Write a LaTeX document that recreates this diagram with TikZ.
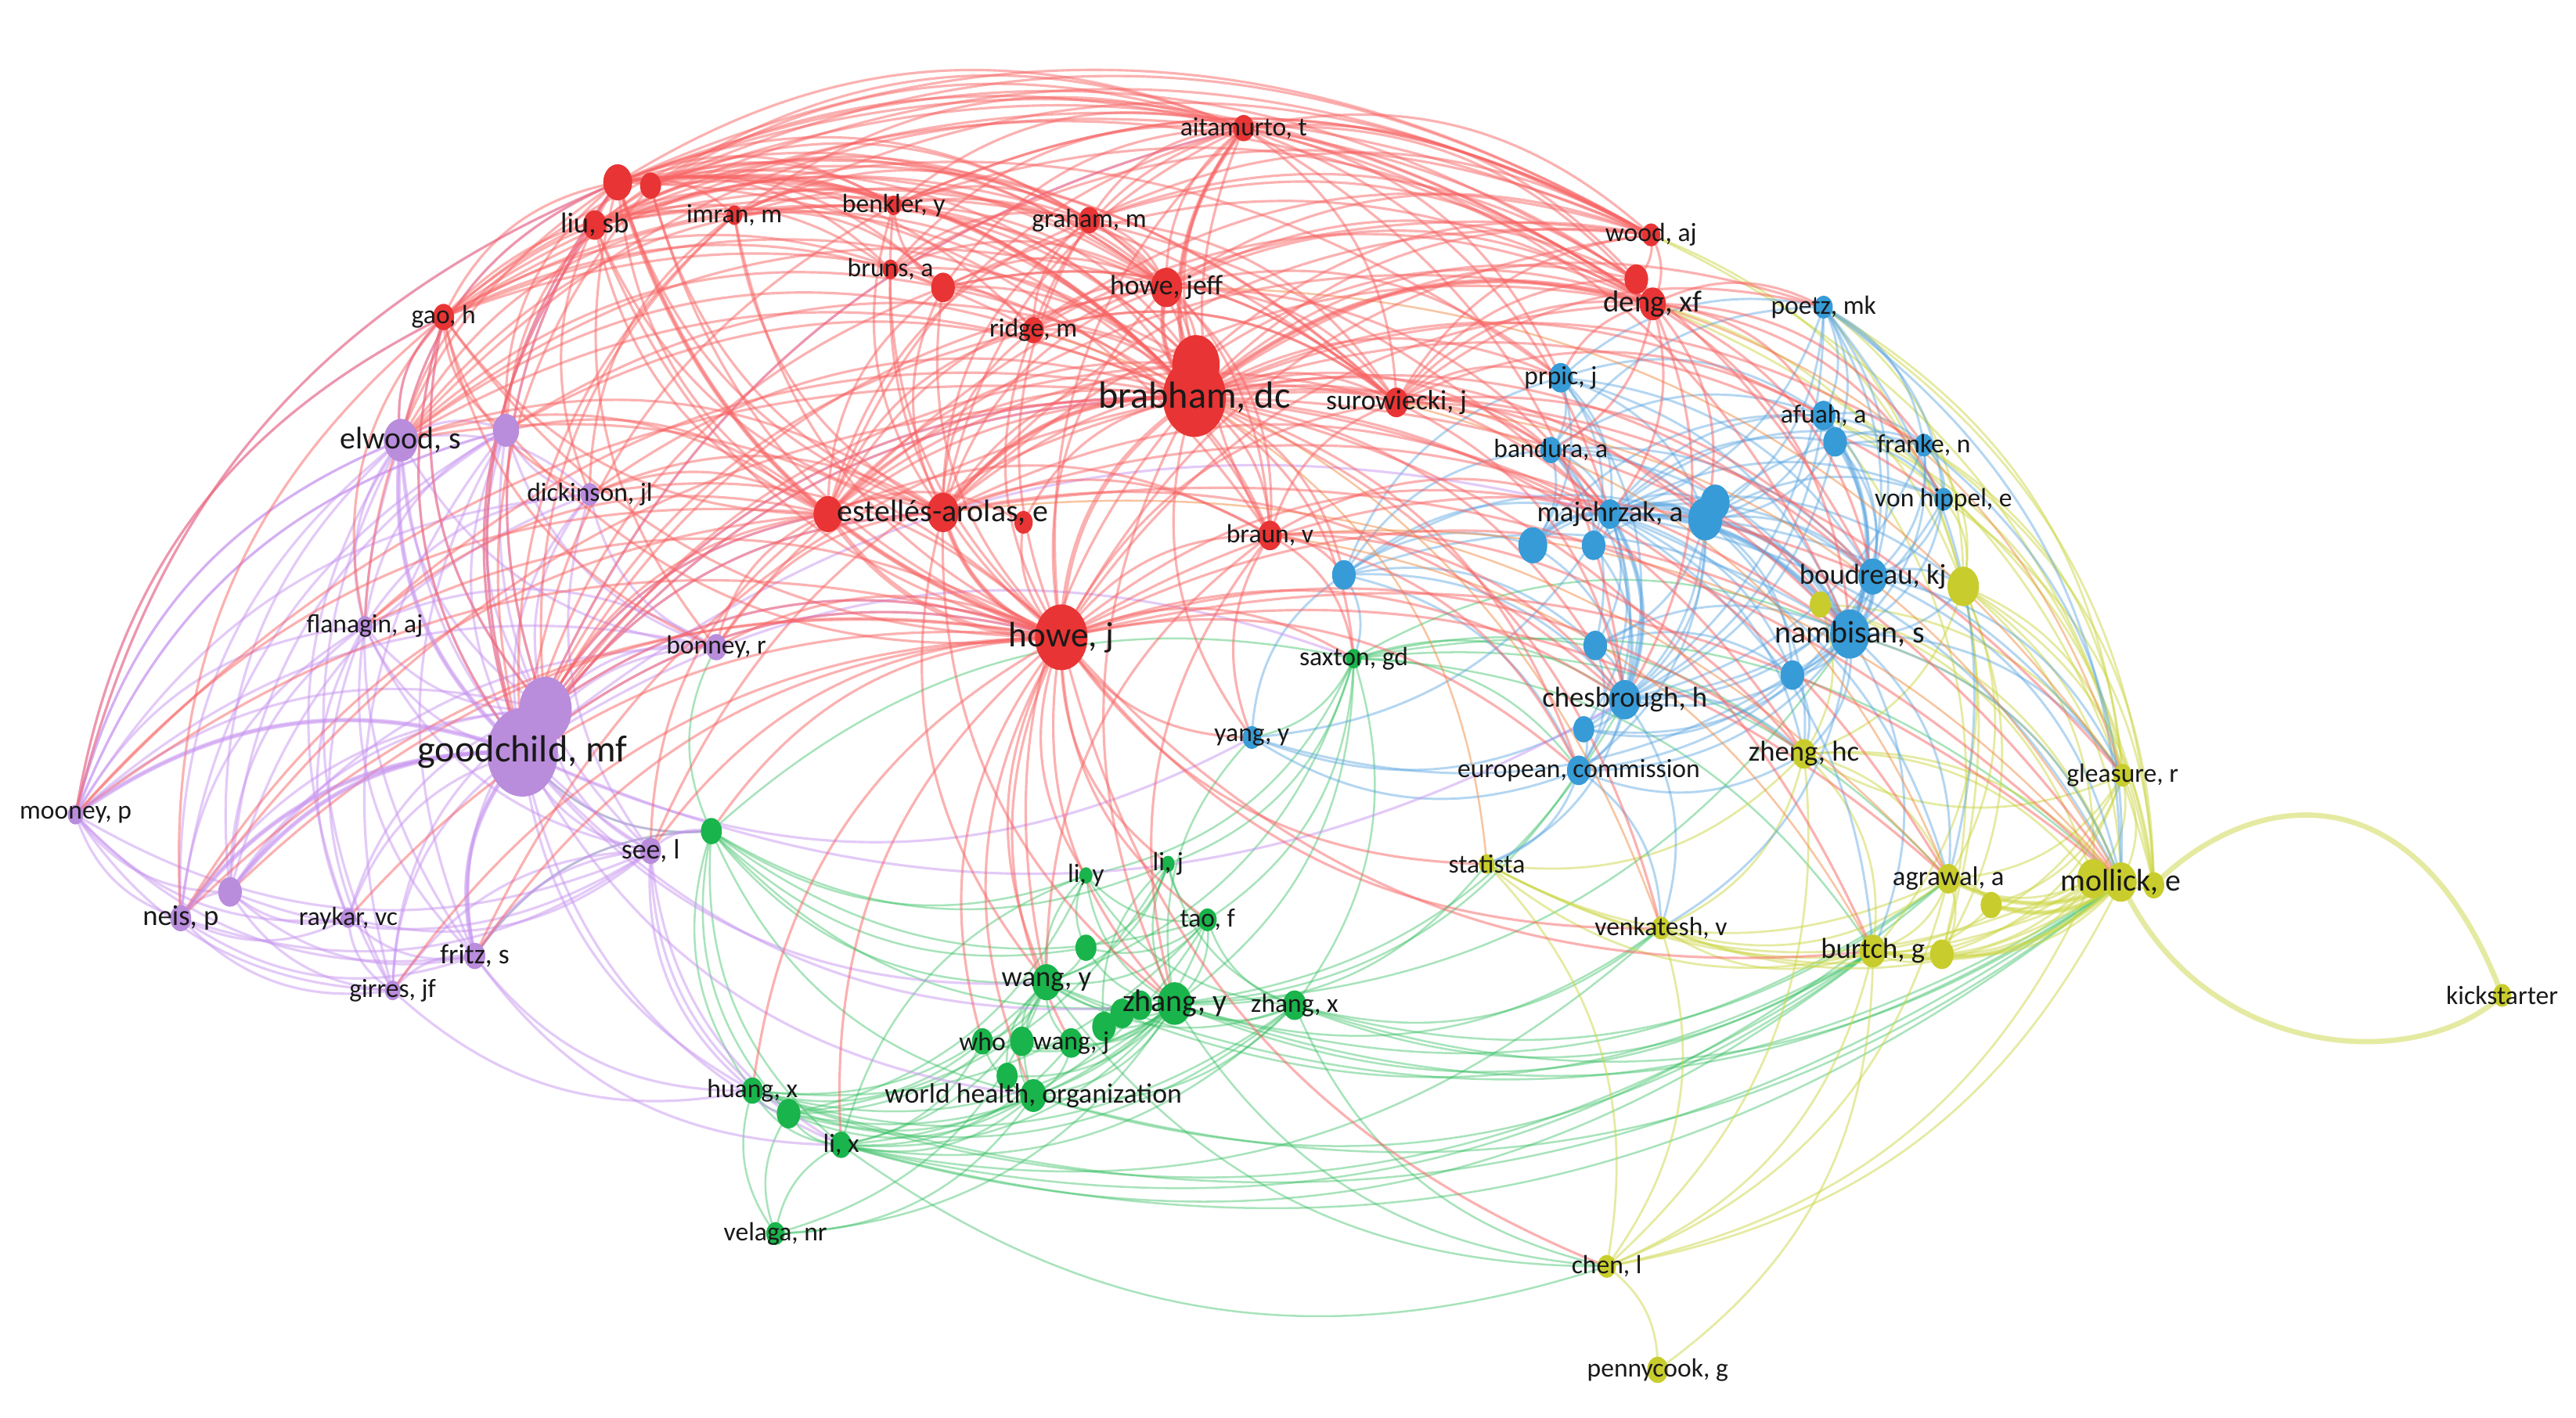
\documentclass[tikz,border=0pt]{standalone}
\usepackage{fontspec}
\newfontfamily\lab{Carlito}
\definecolor{nR}{RGB}{232,52,52}
\definecolor{nP}{RGB}{185,140,220}
\definecolor{nG}{RGB}{25,180,75}
\definecolor{nB}{RGB}{55,155,215}
\definecolor{nY}{RGB}{200,205,45}
\definecolor{cR}{RGB}{248,100,100}
\definecolor{cP}{RGB}{200,150,240}
\definecolor{cG}{RGB}{50,190,95}
\definecolor{cB}{RGB}{90,165,225}
\definecolor{cY}{RGB}{205,215,70}
\definecolor{cO}{RGB}{240,140,70}
\definecolor{labtext}{RGB}{25,25,25}
\tikzset{
  eR/.style={draw=cR,line width=1.5pt,opacity=0.5},
  eP/.style={draw=cP,line width=1.5pt,opacity=0.5},
  eG/.style={draw=cG,line width=1.2pt,opacity=0.42},
  eB/.style={draw=cB,line width=1.4pt,opacity=0.45},
  eY/.style={draw=cY,line width=1.3pt,opacity=0.5},
  eO/.style={draw=cO,line width=1.2pt,opacity=0.5},
  fatter/.style={line width=2.8pt},
  lb/.style={font=\lab\fontsize{#1}{#1}\selectfont,text=labtext,inner sep=0pt},
}
\newcommand\edgeC[3]{%
  \pgfpointanchor{#2}{center}\pgfgetlastxy{\ax}{\ay}%
  \pgfpointanchor{#3}{center}\pgfgetlastxy{\bx}{\by}%
  \pgfmathtruncatemacro\cw{((\ax/100-7.8)*(\by/100+4.3)-(\ay/100+4.3)*(\bx/100-7.8))<0}%
  \ifnum\cw=1\relax
    \draw[#1] (#2.center) to[bend left=27] (#3.center);%
  \else
    \draw[#1] (#2.center) to[bend right=27] (#3.center);%
  \fi}
\newcommand\hubE[3]{\foreach \tg in {#3}{\edgeC{#1}{#2}{\tg}}}
\begin{document}
\begin{tikzpicture}[x=1pt,y=-1pt]
\fill[white] (0,0) rectangle (1568,863);
\useasboundingbox (0,0) rectangle (1568,863);
% ---------- positions
\foreach \nn/\xx/\yy in {
 ait/757/78, liu/362/137, liuA/376/111, liuB/396/113, imr/447/131, ben/544/125,
 gra/663/134, bru/542/164, bruB/574/175, hjf/710/175, rid/629/201, gao/270/193,
 bra/727/242, braB/728/222, sur/850/245, woo/1005/143, den/1006/185, denB/996/170,
 est/574/312, estA/504/313, estB/623/318, brn/773/326, hj/646/388,
 elw/244/268, elwB/308/262, dic/359/301, fla/222/381, bon/436/394, goo/318/458,
 gooB/332/432, moo/46/496, nei/110/559, neiB/140/543, ray/212/559, fri/289/582,
 gir/239/603, see/396/518,
 seeG/433/506, sax/824/401, liy/661/533, lij/711/526, tao/735/560, wgy/637/598,
 wgyB/661/577, zhy/715/611, zhyB/694/612, zhx/788/612, who/598/634, whoB/622/634,
 wgj/652/635, wgjB/672/625, wgjC/683/617, wor/629/667, worB/613/655, hua/458/664,
 huaB/480/678, lix/512/697, vel/472/751,
 poe/1110/187, prp/950/230, afu/1110/253, afuB/1117/269, ban/944/274, fra/1171/271,
 vhi/1183/304, maj/980/313, majB/1038/316, majC/1044/306, majD/933/332, majE/970/332,
 bou/1140/351, nam/1126/386, namB/1091/411, bluC/971/393, che/989/426, cheB/964/444,
 eur/961/469, bluA/818/350, yan/762/449,
 zhh/1098/459, yelA/1195/357, yelB/1108/368, gle/1292/472, sta/905/526, agr/1186/535,
 agrB/1212/551, mol/1291/537, molA/1274/535, molB/1311/539, ven/1011/565, bur/1140/579,
 burB/1182/581, kic/1523/606, chl/978/771, pen/1009/834}
 {\coordinate (\nn) at (\xx,\yy);}
% ---------- edges: green
\hubE{eG}{zhy}{zhyB,wgy,wgyB,liy,lij,tao,zhx,who,whoB,wgj,wgjB,wgjC,wor,worB,hua,huaB,lix,vel,seeG,sax,yan,mol,bur,agr,ven,sta,chl,che,nam,eur}
\hubE{eG}{wgy}{wgyB,liy,lij,tao,zhx,who,whoB,wgj,wor,worB,hua,huaB,lix,vel,seeG,sax,mol,bur,chl}
\hubE{eG}{wor}{worB,who,whoB,wgj,hua,huaB,lix,vel,seeG,zhx,tao,mol,bur}
\hubE{eG}{lix}{hua,huaB,vel,seeG,who,wgj,mol,bur,agr,chl,ven,zhx,tao,liy}
\hubE{eG}{hua}{huaB,vel,seeG,who,tao,mol,bur,zhx}
\hubE{eG}{huaB}{vel,seeG,liy,lij,zhx}
\hubE{eG}{seeG}{sax,liy,lij,tao,wgyB,bon,goo,fri}
\hubE{eG}{sax}{liy,lij,tao,zhx,yan,eur,che,mol,bur,agr,zhh,nam}
\hubE{eG}{zhx}{tao,lij,liy,mol,bur,agr,ven,chl}
\hubE{eG}{tao}{lij,liy,wgyB}
\hubE{eG}{wgyB}{liy,lij}
\hubE{eG}{whoB}{who,wgj}
\hubE{eG}{wgjB}{wgjC,lij}
% ---------- edges: yellow
\hubE{eY}{mol}{molA,molB,agr,agrB,bur,burB,gle,zhh,yelA,yelB,ven,sta,chl,nam}
\hubE{eY}{molA}{agr,agrB,bur,burB,gle,zhh,yelA,yelB,ven,sta,chl}
\hubE{eY}{agr}{agrB,bur,burB,gle,zhh,yelA,ven,sta,chl}
\hubE{eY}{bur}{burB,agrB,gle,zhh,yelA,ven,sta,chl,pen}
\hubE{eY}{gle}{zhh,yelA,yelB,agrB,afu,fra,poe}
\hubE{eY}{zhh}{yelA,yelB,ven,sta,chl}
\hubE{eY}{chl}{pen,ven,sta}
\hubE{eY}{yelA}{vhi,fra,den,woo,poe}
\hubE{eY}{molB}{poe,fra,vhi,afu,den,woo,yelA}
\hubE{eY}{burB}{poe,afu,yelA,gle}
\hubE{eY,fatter}{mol}{molA,agr,bur,agrB}
\draw[eY,line width=3.2pt] (molB.center) .. controls (1370,480) and (1470,465) .. (kic.center);
\draw[eY,line width=3.2pt] (mol.center) .. controls (1340,645) and (1470,655) .. (kic.center);
% ---------- edges: blue
\hubE{eB}{maj}{majB,majC,majD,majE,prp,ban,afu,afuB,fra,vhi,poe,bou,nam,namB,bluC,che,cheB,eur,bluA,yan,zhh,yelA,yelB,gle,mol,agr,bur}
\hubE{eB}{majB}{majC,majD,majE,prp,ban,afu,afuB,fra,vhi,poe,bou,nam,namB,bluC,che,cheB,eur,bluA,zhh}
\hubE{eB}{nam}{bou,afu,afuB,fra,vhi,poe,prp,ban,namB,bluC,che,cheB,eur,bluA,yan,zhh,yelA,yelB,gle,mol,agr,bur,ven}
\hubE{eB}{bou}{afu,afuB,fra,vhi,poe,prp,ban,che,eur,namB,yelA,mol,gle}
\hubE{eB}{che}{cheB,eur,bluC,prp,ban,afu,afuB,fra,vhi,poe,bluA,yan,zhh,majD,majE,sta,ven}
\hubE{eB}{afu}{afuB,fra,vhi,poe,prp,ban,majD}
\hubE{eB}{afuB}{fra,vhi,poe}
\hubE{eB}{prp}{ban,poe,majD,majE,bluA}
\hubE{eB}{ban}{majD,majE,poe,bluA,bluC}
\hubE{eB}{poe}{fra,vhi,mol,agr}
\hubE{eB}{fra}{vhi,mol}
\hubE{eB}{bluA}{yan,majD,bluC,eur,sax}
\hubE{eB}{eur}{cheB,bluC,zhh,ven,sta,yan}
\hubE{eB}{namB}{cheB,bluC,zhh}
\hubE{eB,fatter}{maj}{nam,majB,che,majD}
\hubE{eB,fatter}{nam}{bou,afu,majB}
% ---------- edges: purple
\hubE{eP}{goo}{gooB,elw,elwB,dic,fla,bon,moo,nei,neiB,ray,fri,gir,see,seeG,hua,lix,bra,hj,est,estA,gao,liu,liuA,zhy,wgy,wor,sax,yan,ait,che,maj}
\hubE{eP}{gooB}{elw,elwB,dic,fla,bon,moo,nei,neiB,ray,fri,gir,see,hj,bra,liuA,gao}
\hubE{eP}{elw}{elwB,dic,fla,bon,moo,nei,neiB,ray,fri,gir,see,gao,liuA}
\hubE{eP}{elwB}{dic,fla,moo,nei,neiB,fri,gir,see,bon}
\hubE{eP}{moo}{nei,neiB,ray,fri,gir,fla,elwB,gao,dic,bon,see,liuA,elw}
\hubE{eP}{nei}{neiB,ray,fri,gir,fla,see}
\hubE{eP}{neiB}{ray,fri,gir,fla,see,bon,dic}
\hubE{eP}{fla}{ray,fri,gir,see,dic,bon}
\hubE{eP}{ray}{fri,gir,see}
\hubE{eP}{fri}{gir,see,seeG,hua,lix}
\hubE{eP}{gir}{see,hua}
\hubE{eP}{dic}{bon,see}
\hubE{eP}{see}{seeG,hua,huaB,lix}
% ---------- edges: orange
\hubE{eO}{sur}{mol,agr}
\hubE{eO}{brn}{bur,mol}
\hubE{eO}{hjf}{gle}
\hubE{eO}{den}{gle}
\hubE{eO}{est}{agr}
\hubE{eO}{rid}{ven}
\hubE{eO}{bra}{sta}
% ---------- edges: red
\hubE{eR}{bra}{ait,liu,liuA,liuB,imr,ben,gra,bru,bruB,hjf,rid,gao,sur,woo,den,denB,est,estA,estB,brn,elw,elwB,goo,gooB,dic,bon,fla,prp,maj,majB,che,nam,bou,mol,sax,see,afu,ban,poe,zhh,agr,bur,gle,eur,fra,vhi,moo,nei,fri,wgy,zhy,ven,bluA,yan}
\hubE{eR}{braB}{ait,liuA,gra,woo,den,gao,est,estA,hjf,ben,imr,elwB,goo}
\hubE{eR}{hj}{ait,liu,liuA,liuB,imr,ben,gra,bru,bruB,hjf,rid,gao,sur,woo,den,est,estB,brn,elw,elwB,goo,gooB,dic,bon,fla,moo,nei,neiB,fri,gir,ray,see,seeG,liy,lij,wgy,zhy,who,wgj,wor,hua,lix,tao,yan,sax,che,nam,mol,sta,ven,chl,maj,bou,agr,bur,zhh,eur}
\hubE{eR}{liuA}{ait,imr,ben,gra,bru,bruB,hjf,rid,gao,woo,den,denB,est,estA,sur,brn,elw,elwB,goo,gooB,dic,bon,fla,moo}
\hubE{eR}{liu}{ait,gra,hjf,woo,den,est,estA,goo,elw,sur,prp,maj,ben,bru}
\hubE{eR}{liuB}{ait,gra,den,hjf,est,goo,elwB,sur,woo,ben}
\hubE{eR}{ait}{gra,hjf,woo,den,denB,est,estA,sur,bru,ben,imr,gao,rid,goo,elw,prp,maj,che,nam,brn,bou,bruB}
\hubE{eR}{gra}{hjf,woo,den,est,estA,sur,ben,bru,imr,gao,rid,brn,denB}
\hubE{eR}{hjf}{woo,den,denB,est,estA,sur,ben,bru,bruB,imr,gao,rid,brn,goo,elw,prp,maj}
\hubE{eR}{estA}{est,estB,goo,gooB,elw,elwB,dic,bon,fla,gao,sur,den,woo,brn,rid,bruB,moo,nei,see}
\hubE{eR}{est}{sur,den,woo,brn,rid,bruB,goo,elw,bon,dic,maj,che,nam,mol,zhy,wgy,ben,imr}
\hubE{eR}{sur}{den,denB,woo,prp,maj,ban,afu,poe,che,nam,bou,brn,rid,bruB}
\hubE{eR}{den}{woo,denB,prp,ban,afu,poe,maj,majB,che,nam,fra,vhi,bou}
\hubE{eR}{woo}{denB,imr,ben,bru,gao}
\hubE{eR}{gao}{goo,gooB,elw,elwB,dic,fla,moo,nei,bon,bruB,rid,imr,ben}
\hubE{eR}{bruB}{rid,ben,imr,goo,elw,brn,sur,den}
\hubE{eR}{brn}{sax,yan,bluA,maj,che,eur,zhh,wgy,zhy}
\hubE{eR}{rid}{goo,elw,den,woo,sur,brn}
\hubE{eR}{imr}{ben,goo,gooB,elw,dic}
\hubE{eR}{ben}{goo,elw,woo,den}
\hubE{eR,fatter}{bra}{hj,est,hjf,liuA,ait,den}
\hubE{eR,fatter}{hj}{estA,est,liuA}
\hubE{eP,fatter}{goo}{elw,nei,fri,moo,neiB}
% ---------- node circles
\foreach \nn/\rr/\cc in {
 ait/8/nR, liuA/11/nR, liuB/8/nR, liu/9/nR, imr/6/nR, ben/6/nR, gra/8/nR, bru/6/nR,
 bruB/9/nR, hjf/12/nR, rid/8/nR, gao/8/nR, braB/18/nR, bra/24/nR, sur/9/nR, woo/7/nR,
 denB/9/nR, den/10/nR, estA/11/nR, est/12/nR, estB/7/nR, brn/9/nR, hj/20/nR,
 elw/13/nP, elwB/10/nP, dic/7/nP, fla/6/nP, bon/8/nP, gooB/20/nP, goo/27/nP, moo/6/nP,
 neiB/9/nP, nei/8/nP, ray/6/nP, fri/8/nP, gir/6/nP, see/8/nP,
 seeG/8/nG, sax/6/nG, liy/5/nG, lij/5/nG, tao/7/nG, wgyB/8/nG, wgy/11/nG, zhyB/9/nG,
 zhy/13/nG, zhx/9/nG, who/8/nG, whoB/9/nG, wgj/9/nG, wgjB/9/nG, wgjC/9/nG, worB/8/nG,
 wor/10/nG, hua/8/nG, huaB/9/nG, lix/8/nG, vel/7/nG,
 poe/7/nB, prp/9/nB, afu/9/nB, afuB/9/nB, ban/8/nB, fra/7/nB, vhi/7/nB, maj/9/nB,
 majC/11/nB, majB/13/nB, majD/11/nB, majE/9/nB, bou/11/nB, nam/15/nB, namB/9/nB,
 bluC/9/nB, che/12/nB, cheB/8/nB, eur/9/nB, bluA/9/nB, yan/7/nB,
 zhh/9/nY, yelA/12/nY, yelB/8/nY, gle/7/nY, sta/6/nY, agr/9/nY, agrB/8/nY, molA/12/nY,
 mol/12/nY, molB/8/nY, ven/7/nY, bur/10/nY, burB/9/nY, kic/7/nY, chl/7/nY, pen/8/nY}
 {\pgfmathsetmacro\rx{0.8*\rr}\fill[\cc] (\nn) ellipse [x radius=\rx pt, y radius=\rr pt];}
% ---------- labels
\node[lb=16] (L-ait) at (ait) {aitamurto, t};
\node[lb=17.5] (L-liu) at (liu) {liu, sb};
\node[lb=16] (L-imr) at (imr) {imran, m};
\node[lb=16] (L-ben) at (ben) {benkler, y};
\node[lb=16] (L-gra) at (gra) {graham, m};
\node[lb=16] (L-bru) at (bru) {bruns, a};
\node[lb=17] (L-hjf) at (hjf) {howe, jeff};
\node[lb=16] (L-rid) at (rid) {ridge, m};
\node[lb=16] (L-gao) at (gao) {gao, h};
\node[lb=23] (L-bra) at (bra) {brabham, dc};
\node[lb=17] (L-sur) at (sur) {surowiecki, j};
\node[lb=16] (L-woo) at (woo) {wood, aj};
\node[lb=18.5] (L-den) at (den) {deng, xf};
\node[lb=19] (L-est) at (est) {estellés-arolas, e};
\node[lb=16] (L-brn) at (brn) {braun, v};
\node[lb=21.5] (L-hj) at (hj) {howe, j};
\node[lb=19] (L-elw) at (elw) {elwood, s};
\node[lb=16] (L-dic) at (dic) {dickinson, jl};
\node[lb=16] (L-fla) at (fla) {flanagin, aj};
\node[lb=16] (L-bon) at (bon) {bonney, r};
\node[lb=23] (L-goo) at (goo) {goodchild, mf};
\node[lb=16] (L-moo) at (moo) {mooney, p};
\node[lb=17.5] (L-nei) at (nei) {neis, p};
\node[lb=16] (L-ray) at (ray) {raykar, vc};
\node[lb=17] (L-fri) at (fri) {fritz, s};
\node[lb=16] (L-gir) at (gir) {girres, jf};
\node[lb=17] (L-see) at (see) {see, l};
\node[lb=16] (L-sax) at (sax) {saxton, gd};
\node[lb=16] (L-liy) at (liy) {li, y};
\node[lb=16] (L-lij) at (lij) {li, j};
\node[lb=16] (L-tao) at (tao) {tao, f};
\node[lb=17.5] (L-wgy) at (wgy) {wang, y};
\node[lb=19] (L-zhy) at (zhy) {zhang, y};
\node[lb=16] (L-zhx) at (zhx) {zhang, x};
\node[lb=16] (L-who) at (who) {who};
\node[lb=16] (L-wgj) at (wgj) {wang, j};
\node[lb=17] (L-wor) at (wor) {world health, organization};
\node[lb=16] (L-hua) at (hua) {huang, x};
\node[lb=16] (L-lix) at (lix) {li, x};
\node[lb=16] (L-vel) at (vel) {velaga, nr};
\node[lb=16] (L-poe) at (poe) {poetz, mk};
\node[lb=16] (L-prp) at (prp) {prpic, j};
\node[lb=16] (L-afu) at (afu) {afuah, a};
\node[lb=16] (L-ban) at (ban) {bandura, a};
\node[lb=16] (L-fra) at (fra) {franke, n};
\node[lb=16] (L-vhi) at (vhi) {von hippel, e};
\node[lb=17.5] (L-maj) at (maj) {majchrzak, a};
\node[lb=17.5] (L-bou) at (bou) {boudreau, kj};
\node[lb=19] (L-nam) at (nam) {nambisan, s};
\node[lb=17.5] (L-che) at (che) {chesbrough, h};
\node[lb=16] (L-eur) at (eur) {european, commission};
\node[lb=16] (L-yan) at (yan) {yang, y};
\node[lb=17.5] (L-zhh) at (zhh) {zheng, hc};
\node[lb=16] (L-gle) at (gle) {gleasure, r};
\node[lb=16] (L-sta) at (sta) {statista};
\node[lb=16.5] (L-agr) at (agr) {agrawal, a};
\node[lb=19] (L-mol) at (mol) {mollick, e};
\node[lb=16] (L-ven) at (ven) {venkatesh, v};
\node[lb=17.5] (L-bur) at (bur) {burtch, g};
\node[lb=16] (L-kic) at (kic) {kickstarter};
\node[lb=16] (L-chl) at (chl) {chen, l};
\node[lb=16] (L-pen) at (pen) {pennycook, g};
\end{tikzpicture}
\end{document}
